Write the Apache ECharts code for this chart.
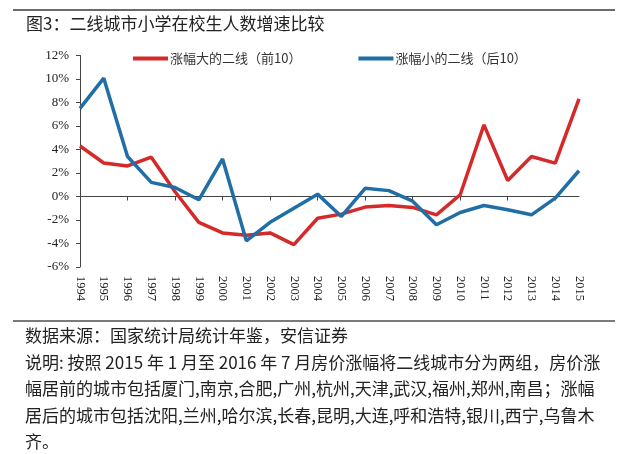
<!DOCTYPE html>
<html>
<head>
<meta charset="utf-8">
<script src="https://cdn.jsdelivr.net/npm/echarts@6/dist/echarts.min.js"></script>
<style>
html,body{margin:0;padding:0;background:#fff;}
#chart{width:640px;height:454px;}
</style>
</head>
<body>
<div id="chart"></div>
<script>
var years = ['1994','1995','1996','1997','1998','1999','2000','2001','2002','2003','2004','2005','2006','2007','2008','2009','2010','2011','2012','2013','2014','2015'];
var topGroup = [4.3, 2.85, 2.6, 3.35, 0.4, -2.2, -3.1, -3.3, -3.1, -4.1, -1.85, -1.5, -0.9, -0.77, -0.93, -1.56, 0.15, 6.1, 1.36, 3.4, 2.84, 8.3];
var bottomGroup = [7.5, 10.07, 3.4, 1.2, 0.77, -0.28, 3.2, -3.77, -2.2, -1.0, 0.2, -1.7, 0.7, 0.5, -0.4, -2.4, -1.36, -0.77, -1.13, -1.56, -0.14, 2.19];
var seriesNames = ['涨幅大的二线（前10）', '涨幅小的二线（后10）'];
var titleText = '图3：二线城市小学在校生人数增速比较';
var footerLines = [
  '数据来源：国家统计局统计年鉴，安信证券',
  '说明: 按照 2015 年 1 月至 2016 年 7 月房价涨幅将二线城市分为两组，房价涨',
  '幅居前的城市包括厦门,南京,合肥,广州,杭州,天津,武汉,福州,郑州,南昌；涨幅',
  '居后的城市包括沈阳,兰州,哈尔滨,长春,昆明,大连,呼和浩特,银川,西宁,乌鲁木',
  '齐。'
];

var cjk = '"Noto Sans CJK SC", "Noto Sans", sans-serif';
var serif = '"Liberation Serif", "DejaVu Serif", serif';
var footerY = [336, 362.5, 389, 415.5, 442];

var graphics = [
  {type:'line', shape:{x1:13, y1:10, x2:615, y2:10}, style:{stroke:'#6a6a6a', lineWidth:2}},
  {type:'text', left:26, top:15, style:{text:titleText, font:'17px ' + cjk, fill:'#222'}},
  {type:'line', shape:{x1:13, y1:321, x2:615, y2:321}, style:{stroke:'#7a7a7a', lineWidth:2}}
];
footerLines.forEach(function(t, i){
  graphics.push({type:'text', x:25, y:footerY[i], style:{text:t, font:'17px ' + cjk, fill:'#222', textVerticalAlign:'middle'}});
});

var chart = echarts.init(document.getElementById('chart'));
chart.setOption({
  animation:false,
  backgroundColor:'#fff',
  graphic: graphics,
  legend:{
    left:128, top:47,
    itemWidth:35, itemHeight:4, itemGap:57,
    icon:'rect',
    textStyle:{fontFamily:cjk, fontSize:13, color:'#333', padding:[0,0,0,-3]},
    data: seriesNames
  },
  grid:{left:80, right:61, top:55.5, height:211.5, containLabel:false},
  xAxis:[
    {
      type:'category', data:years, boundaryGap:false, position:'bottom',
      axisLine:{show:true, onZero:true, lineStyle:{color:'#444', width:1}},
      axisTick:{show:true, length:4, lineStyle:{color:'#444'}},
      axisLabel:{show:false}, splitLine:{show:false}
    },
    {
      type:'category', data:years, boundaryGap:false, position:'bottom',
      axisLine:{show:false, onZero:false},
      axisTick:{show:false},
      axisLabel:{show:true, rotate:-90, margin:9, fontFamily:serif, fontSize:12.5, color:'#222'},
      splitLine:{show:false}
    }
  ],
  yAxis:{
    type:'value', min:-6, max:12, interval:2,
    axisLine:{show:true, lineStyle:{color:'#444', width:1}},
    axisTick:{show:true, length:4, lineStyle:{color:'#444'}},
    axisLabel:{formatter:'{value}%', margin:11, fontFamily:serif, fontSize:13, color:'#222'},
    splitLine:{show:false}
  },
  series:[
    {name:seriesNames[0], type:'line', data:topGroup, xAxisIndex:0, symbol:'none',
     lineStyle:{color:'#d42a2a', width:3.5}, itemStyle:{color:'#d42a2a'}, z:3},
    {name:seriesNames[1], type:'line', data:bottomGroup, xAxisIndex:0, symbol:'none',
     lineStyle:{color:'#1f6ea6', width:3.5}, itemStyle:{color:'#1f6ea6'}, z:4}
  ]
});
</script>
</body>
</html>
